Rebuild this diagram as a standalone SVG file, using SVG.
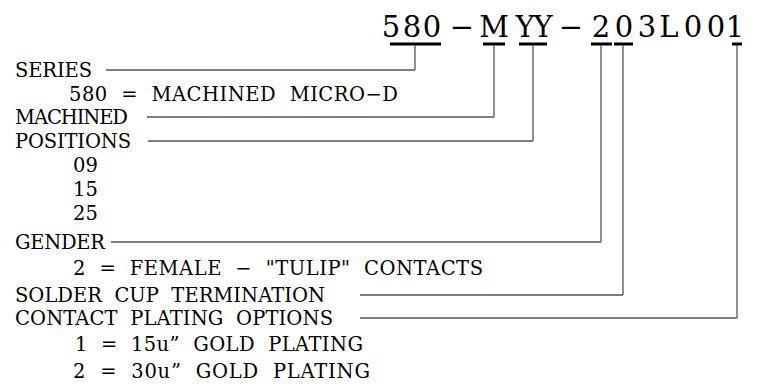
<svg xmlns="http://www.w3.org/2000/svg" width="762" height="392" viewBox="0 0 762 392" xml:space="preserve">
<style>
text{font-family:"DejaVu Serif","Liberation Serif",serif;fill:#000;white-space:pre}
.t{font-size:29px;text-anchor:middle}
.b{font-size:19.5px}
.c line{stroke:#555;stroke-width:1.3}
.u line{stroke:#000;stroke-width:3}
</style>
<rect width="762" height="392" fill="#fff"/>
<g id="title">
<text class="t" x="391 412 432 462 494 525 543 571 601 624 647 669 693 716 735" y="37">580−MYY−203L001</text>
</g>
<g id="underlines" class="u">
<line x1="390" y1="44" x2="441" y2="44"/>
<line x1="483" y1="44" x2="505" y2="44"/>
<line x1="519" y1="44" x2="547" y2="44"/>
<line x1="591" y1="44" x2="612" y2="44"/>
<line x1="614" y1="44" x2="633" y2="44"/>
<line x1="732" y1="44" x2="742" y2="44"/>
</g>
<g id="series"><text class="b" x="15" y="77" textLength="77" lengthAdjust="spacing">SERIES</text></g>
<g id="series-val"><text class="b" x="69" y="101" textLength="329" lengthAdjust="spacing">580  =  MACHINED  MICRO−D</text></g>
<g id="machined"><text class="b" x="15" y="124" textLength="113" lengthAdjust="spacing">MACHINED</text></g>
<g id="positions"><text class="b" x="15" y="148" textLength="116" lengthAdjust="spacing">POSITIONS</text></g>
<g id="pos-vals">
<text class="b" x="73" y="172" textLength="25" lengthAdjust="spacing">09</text>
<text class="b" x="73" y="196" textLength="25" lengthAdjust="spacing">15</text>
<text class="b" x="73" y="220" textLength="25" lengthAdjust="spacing">25</text>
</g>
<g id="gender"><text class="b" x="15" y="249" textLength="90" lengthAdjust="spacing">GENDER</text></g>
<g id="gender-val"><text class="b" x="73" y="275" textLength="410" lengthAdjust="spacing">2  =  FEMALE  −  "TULIP"  CONTACTS</text></g>
<g id="termination"><text class="b" x="15" y="302" textLength="310" lengthAdjust="spacing">SOLDER  CUP  TERMINATION</text></g>
<g id="plating"><text class="b" x="15" y="325" textLength="318" lengthAdjust="spacing">CONTACT  PLATING  OPTIONS</text></g>
<g id="plating-vals">
<text class="b" x="75" y="351" textLength="288" lengthAdjust="spacing">1  =  15u”  GOLD  PLATING</text>
<text class="b" x="73" y="378" textLength="297" lengthAdjust="spacing">2  =  30u”  GOLD  PLATING</text>
</g>
<g id="connectors" class="c" fill="none">
<line x1="415" y1="45" x2="415" y2="70"/><line x1="106" y1="70" x2="415" y2="70"/>
<line x1="494" y1="45" x2="494" y2="117"/><line x1="147" y1="117" x2="494" y2="117"/>
<line x1="533" y1="45" x2="533" y2="141"/><line x1="148" y1="141" x2="533" y2="141"/>
<line x1="601" y1="45" x2="601" y2="242"/><line x1="111" y1="242" x2="601" y2="242"/>
<line x1="623" y1="45" x2="623" y2="295"/><line x1="360" y1="295" x2="623" y2="295"/>
<line x1="737" y1="45" x2="737" y2="318"/><line x1="360" y1="318" x2="737" y2="318"/>
</g>
</svg>
